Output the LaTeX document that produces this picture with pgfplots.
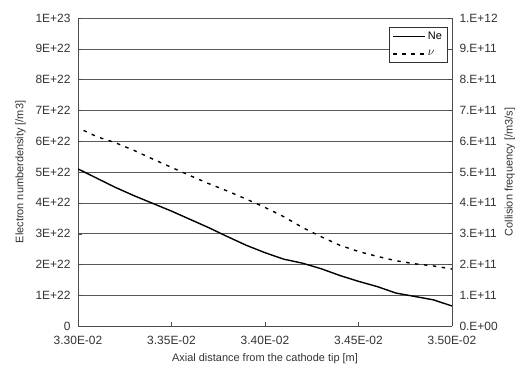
\documentclass[border=0pt]{standalone}
\usepackage{pgfplots}
\pgfplotsset{compat=1.18}
\usepackage{fontspec}
\setmainfont{Liberation Sans}
\begin{document}
\begin{tikzpicture}
\pgfplotsset{every axis/.append style={
  scale only axis, width=374bp, height=308bp,
  xmin=3.30, xmax=3.50, ymin=0, ymax=10,
  tick label style={font=\fontsize{12}{14}\selectfont, text=black!80},
  label style={font=\fontsize{11}{13}\selectfont, text=black!80},
  /pgf/number format/assume math mode=true,
}}
\begin{axis}[name=ax,
  axis y line*=left, axis x line*=bottom,
  xtick={3.30,3.35,3.40,3.45,3.50},
  xticklabels={3.30E-02,3.35E-02,3.40E-02,3.45E-02,3.50E-02},
  xticklabel style={yshift=-7bp},
  yticklabel style={xshift=-4bp},
  ytick={0,1,...,10},
  yticklabels={0,1E+22,2E+22,3E+22,4E+22,5E+22,6E+22,7E+22,8E+22,9E+22,1E+23},
  ymajorgrids, major grid style={black!65, line width=0.5pt},
  xtick style={black!70}, ytick style={black!70},
  axis line style={black!70},
  xlabel={Axial distance from the cathode tip [m]},
  xlabel style={yshift=-2bp},
  ylabel={Electron numberdensity [/m3]},
  ylabel style={yshift=3bp},
  legend style={at={(0.987,0.972)}, anchor=north east, draw=black!80,
    font=\fontsize{11}{13}\selectfont, inner sep=3pt, row sep=6pt,
    legend image code/.code={\draw[#1, line width=1.4pt] (0,0) -- (32bp,0);}},
  legend cell align=left,
]
\addplot[black, line width=1.4pt] coordinates {
(3.300,5.10) (3.310,4.80) (3.320,4.50) (3.330,4.23) (3.340,3.98) (3.350,3.73)
(3.360,3.46) (3.370,3.19) (3.380,2.90) (3.390,2.62) (3.400,2.38) (3.410,2.17)
(3.420,2.04) (3.430,1.86) (3.440,1.64) (3.450,1.45) (3.460,1.28) (3.470,1.07)
(3.480,0.96) (3.490,0.85) (3.500,0.65)};
\addlegendentry{Ne}
\addplot[black, line width=1.4pt, dash pattern=on 3.5pt off 5.5pt] coordinates {
(3.303,6.35) (3.310,6.15) (3.320,5.95) (3.330,5.70) (3.340,5.42) (3.350,5.15)
(3.360,4.88) (3.370,4.62) (3.380,4.38) (3.390,4.12) (3.400,3.85) (3.410,3.55)
(3.420,3.20) (3.430,2.90) (3.440,2.62) (3.450,2.42) (3.460,2.26) (3.470,2.12)
(3.480,2.02) (3.490,1.95) (3.500,1.85)};
\addlegendentry{\large$\nu$}
\end{axis}
\begin{axis}[
  axis y line*=right, axis x line=none,
  ytick={0,1,...,10},
  yticklabels={0.E+00,1.E+11,2.E+11,3.E+11,4.E+11,5.E+11,6.E+11,7.E+11,8.E+11,9.E+11,1.E+12},
  yticklabel style={xshift=4bp},
  ytick style={black!70}, axis line style={black!70},
  ylabel={Collision frequency [/m3/s]},
]
\end{axis}
\pgfresetboundingbox
\path ([shift={(-78bp,-54bp)}]ax.south west) rectangle ([shift={(67bp,18bp)}]ax.north east);
\end{tikzpicture}
\end{document}
